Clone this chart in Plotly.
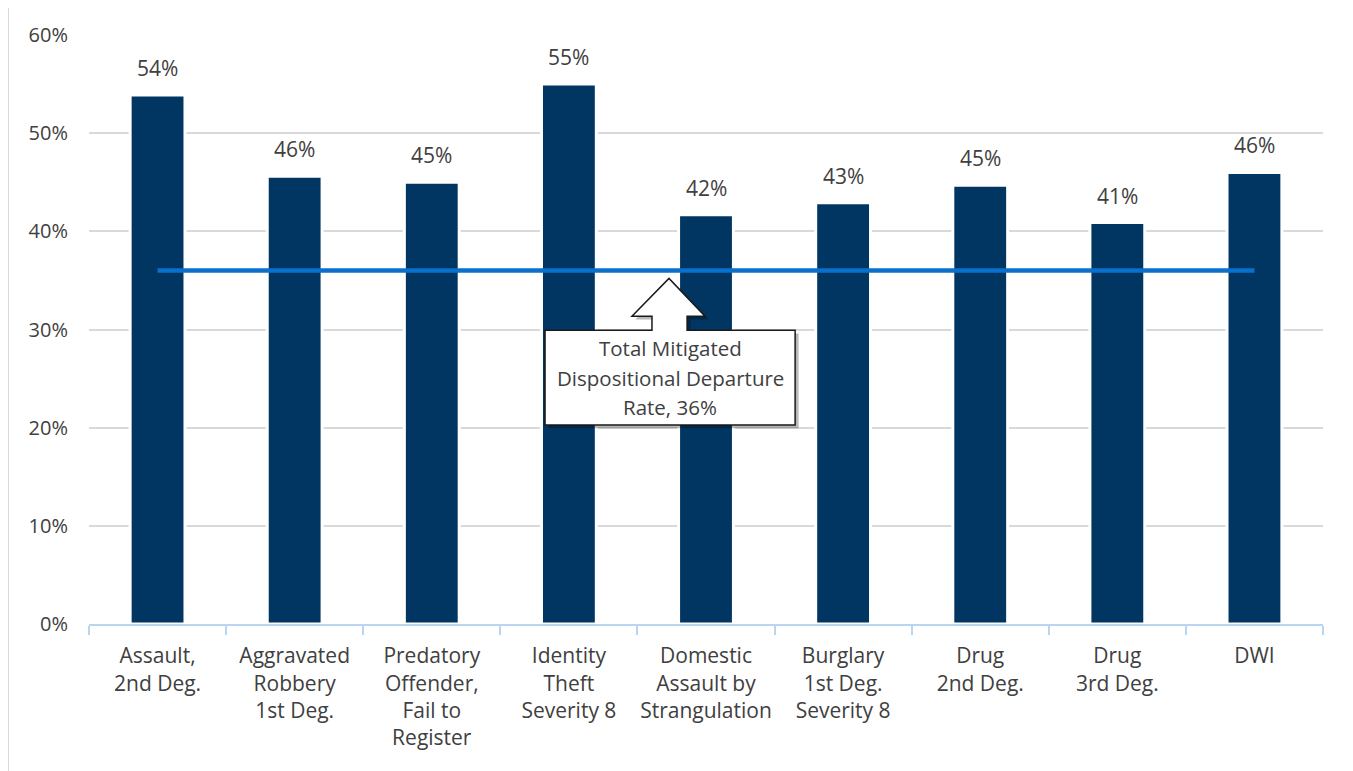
import plotly.graph_objects as go

categories = [
    "Assault,<br>2nd Deg.",
    "Aggravated<br>Robbery<br>1st Deg.",
    "Predatory<br>Offender,<br>Fail to<br>Register",
    "Identity<br>Theft<br>Severity 8",
    "Domestic<br>Assault by<br>Strangulation",
    "Burglary<br>1st Deg.<br>Severity 8",
    "Drug<br>2nd Deg.",
    "Drug<br>3rd Deg.",
    "DWI",
]
departure_rates = [0.539, 0.456, 0.450, 0.550, 0.417, 0.429, 0.447, 0.409, 0.460]
total_rate = 0.36
total_label_lines = ["Total Mitigated", "Dispositional Departure", "Rate, 36%"]
y_tickvals = [0, 0.1, 0.2, 0.3, 0.4, 0.5, 0.6]

FONT = "Open Sans"
TXT = "#404040"
BAR = "#013663"
LINE = "#0A70CC"
AX = "#B8D6F2"
GRID = "#D9D9D9"

n = len(categories)
y_max = 0.6

fig = go.Figure()
fig.add_trace(go.Bar(
    x=categories, y=departure_rates,
    marker=dict(color=BAR, line=dict(color="white", width=3)),
    hoverinfo="skip",
))
fig.add_trace(go.Scatter(
    x=categories, y=[total_rate] * n, mode="lines",
    line=dict(color=LINE, width=4.5), hoverinfo="skip",
))

# data labels above bars
for c, v in zip(categories, departure_rates):
    fig.add_annotation(x=c, y=v, text=f"{v:.0%}", showarrow=False,
                       yanchor="bottom", yshift=11,
                       font=dict(family=FONT, size=21, color=TXT))

# callout (in paper coords derived from category index / value)
def px(i):
    return (i + 0.5) / n

def py(v):
    return v / y_max

bx0, bx1 = 2.826, 4.65
by0, by1 = 0.2026, 0.2993
sx0, sx1 = 3.606, 3.862
hx0, hx1 = 3.46, 3.993
hy = 0.3135
tx, ty = 3.73, 0.352

pts = [(bx0, by1), (sx0, by1), (sx0, hy), (hx0, hy), (tx, ty), (hx1, hy),
       (sx1, hy), (sx1, by1), (bx1, by1), (bx1, by0), (bx0, by0)]

def path_from(points, dx=0.0, dy=0.0):
    s = ""
    for k, (a, b) in enumerate(points):
        s += ("M" if k == 0 else "L") + f"{px(a)+dx:.5f},{py(b)+dy:.5f} "
    return s + "Z"

fig.add_shape(type="path", xref="paper", yref="paper",
              path=path_from(pts, 0.0028, -0.0055),
              fillcolor="rgba(0,0,0,0.28)", line=dict(width=0), layer="above")
fig.add_shape(type="path", xref="paper", yref="paper",
              path=path_from(pts), fillcolor="white",
              line=dict(color="#1A1A1A", width=1.5), layer="above")
for k, line_txt in enumerate(total_label_lines):
    fig.add_annotation(xref="paper", yref="paper", x=px((bx0 + bx1) / 2),
                       y=py((by0 + by1) / 2), text=line_txt, showarrow=False,
                       xanchor="center", yanchor="middle",
                       yshift=(1 - k) * 29.5,
                       font=dict(family=FONT, size=20.5, color=TXT))

# outer chart border
fig.add_shape(type="rect", xref="paper", yref="paper",
              x0=-0.0656, x1=1.0211, y0=-0.5, y1=1.0513,
              line=dict(color=GRID, width=2), fillcolor="rgba(0,0,0,0)",
              layer="below")

fig.update_layout(
    width=1345, height=763,
    margin=dict(l=81, r=30, t=27, b=147, autoexpand=False),
    paper_bgcolor="white", plot_bgcolor="white",
    showlegend=False, bargap=0.6,
    font=dict(family=FONT, size=20, color=TXT),
)
fig.update_xaxes(
    type="category", showline=True, linecolor=AX, linewidth=2,
    ticks="outside", ticklen=9, tickcolor=AX, tickwidth=2,
    tickson="boundaries", showgrid=False, ticklabelstandoff=12,
    tickangle=0, automargin=False,
    tickfont=dict(family=FONT, size=21, color=TXT),
)
fig.update_yaxes(
    range=[0, y_max], tickvals=y_tickvals, tickformat=".0%",
    showgrid=True, gridcolor=GRID, gridwidth=1.5, zeroline=False,
    showline=False, ticks="", ticklabelstandoff=20, automargin=False,
    tickfont=dict(family=FONT, size=20, color=TXT),
)

fig.write_html("out.html")
